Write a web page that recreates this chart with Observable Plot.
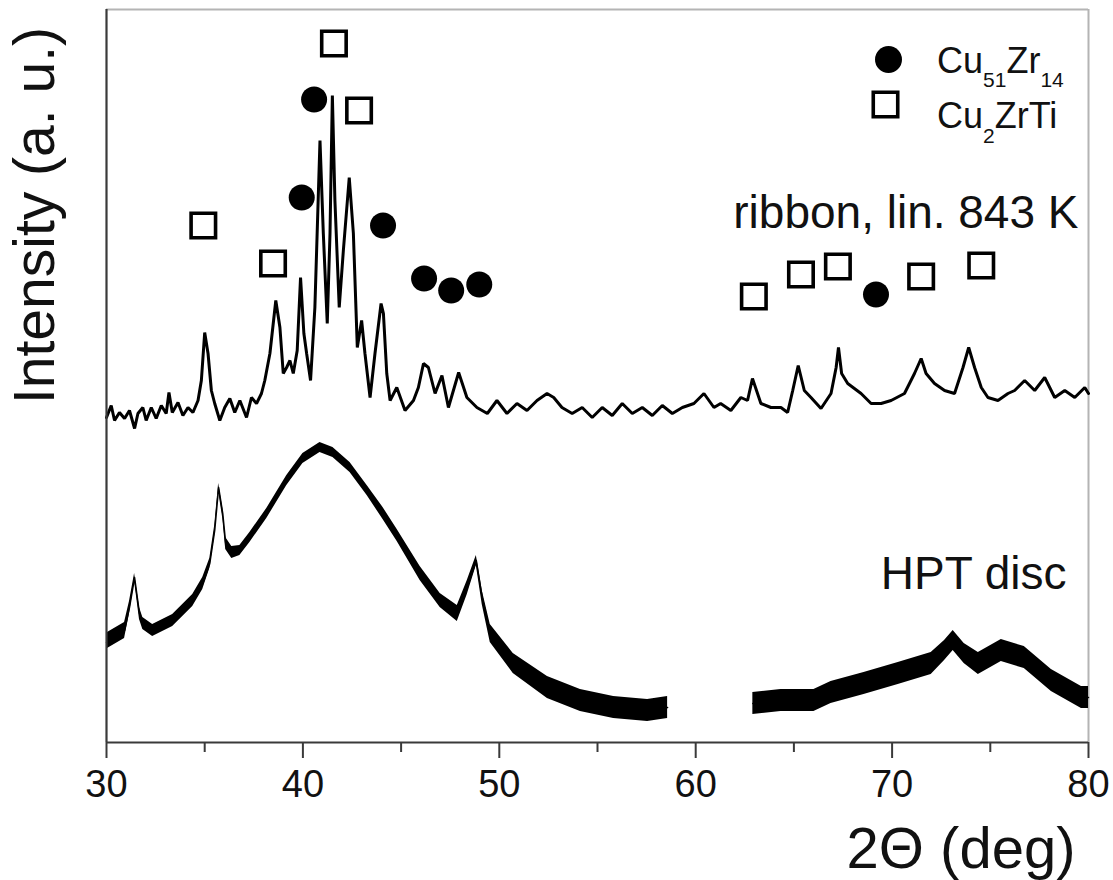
<!DOCTYPE html>
<html>
<head>
<meta charset="utf-8">
<script src="https://cdn.jsdelivr.net/npm/d3@7"></script>
<script src="https://cdn.jsdelivr.net/npm/@observablehq/plot@0.6"></script>
<style>
  html, body { margin: 0; padding: 0; background: #fff; }
  #chart { width: 1113px; height: 880px; }
</style>
</head>
<body>
<div id="chart"></div>
<script>
// ---- data (2θ in degrees, intensity in arbitrary units) ----
const ribbonX = [30.00,30.24,30.41,30.66,30.92,31.17,31.43,31.60,31.85,32.02,32.28,32.53,32.79,33.04,33.18,33.35,33.64,33.89,34.15,34.40,34.66,34.83,35.00,35.17,35.34,35.51,35.77,36.02,36.28,36.53,36.79,37.13,37.38,37.64,37.89,38.06,38.32,38.62,38.83,39.00,39.17,39.34,39.51,39.71,39.88,40.05,40.19,40.39,40.61,40.87,41.04,41.24,41.38,41.50,41.63,41.85,42.06,42.36,42.57,42.77,42.99,43.16,43.42,43.67,43.98,44.10,44.27,44.44,44.78,45.20,45.63,45.88,46.14,46.39,46.73,47.08,47.41,47.93,48.35,48.86,49.39,49.88,50.39,50.90,51.41,51.92,52.43,52.77,53.19,53.71,54.22,54.73,55.24,55.75,56.26,56.77,57.28,57.79,58.30,58.81,59.32,59.91,60.42,60.93,61.27,61.79,62.30,62.64,62.89,63.32,63.83,64.34,64.68,64.94,65.22,65.53,65.87,66.38,66.89,67.15,67.27,67.43,67.74,68.42,68.93,69.44,69.95,70.63,71.14,71.48,71.73,72.16,72.67,73.18,73.61,73.90,74.20,74.54,74.88,75.39,75.90,76.24,76.75,77.26,77.77,78.28,78.79,79.30,79.81,80.00];
const ribbonY = [325,337,322,330,324,332,314,329,335,322,335,324,337,329,350,330,340,327,335,330,342,362,410,389,352,339,322,335,344,330,342,325,345,339,349,362,389,442,415,369,375,382,369,392,465,409,389,362,435,602,509,419,509,647,542,435,492,565,509,395,422,389,345,389,439,429,369,342,355,332,342,355,379,375,349,367,335,370,345,335,329,342,329,339,332,342,349,345,335,329,335,325,335,327,339,329,335,327,337,329,335,339,349,335,339,332,345,342,364,339,335,335,330,352,377,352,345,334,349,375,395,369,359,349,339,339,342,349,369,384,369,359,352,349,375,395,375,355,345,342,349,352,362,352,365,345,352,345,355,349];

const hptX1 = [30.00,30.05,30.92,31.17,31.43,31.68,31.85,32.35,33.37,34.39,34.90,35.26,35.51,35.71,35.92,36.07,36.38,36.79,37.30,38.16,39.18,40.00,40.87,41.53,42.40,43.27,44.08,44.80,45.97,46.99,47.86,48.37,48.83,49.13,49.54,50.71,52.45,54.13,55.82,57.55,58.57];
const hptY1 = [100,102,112,135,165,129,119,112,122,142,159,179,212,255,229,199,190,192,205,229,262,284,295,290,275,252,229,207,169,142,129,155,182,145,109,79,55,42,35,32,35];
const hptSpread1 = [8,8,8,6,4,6,6,6,6,6,6,5,5,4,5,6,6,5,5,5,5,5,5,5,5,5,6,6,7,7,8,7,5,7,9,10,11,11,11,11,11];

const hptX2 = [62.91,64.34,66.02,66.89,68.57,70.31,71.99,72.67,73.11,73.67,74.39,75.56,76.73,78.11,79.64,80.00];
const hptY2 = [39,42,42,50,59,69,79,92,102,89,79,92,85,62,45,45];
const hptSpread2 = [11,11,11,11,11,11,11,10,10,10,11,11,11,11,11,11];

const cu51zr14X = [40.57,39.94,44.08,46.17,47.55,48.98,69.18];
const cu51zr14Y = [643,545,517,464,452,458,448];
const cu2zrtiX = [41.58,42.86,34.93,38.48,62.96,65.36,67.24,71.48,74.54];
const cu2zrtiY = [699,632,517,479,446,468,476,466,477];

const majorTicks = [30,40,50,60,70,80];
const minorTicks = [35,45,55,65,75];
const curveLabels = ["ribbon, lin. 843 K", "HPT disc"];
const xLabel = "2Θ (deg)";
const yLabel = "Intensity (a. u.)";

// ---- tables built from the arrays ----
const ribbon = ribbonX.map((x, i) => ({x, y: ribbonY[i]}));
const hpt = [
  ...hptX1.map((x, i) => ({seg: "a", x, y: hptY1[i], lo: hptY1[i] - hptSpread1[i], hi: hptY1[i] + hptSpread1[i]})),
  ...hptX2.map((x, i) => ({seg: "b", x, y: hptY2[i], lo: hptY2[i] - hptSpread2[i], hi: hptY2[i] + hptSpread2[i]}))
];
const circles = cu51zr14X.map((x, i) => ({x, y: cu51zr14Y[i]}));
const squares = cu2zrtiX.map((x, i) => ({x, y: cu2zrtiY[i]}));

const FONT = "'Liberation Sans', Arial, Helvetica, sans-serif";

const svg = Plot.plot({
  width: 1113,
  height: 880,
  marginLeft: 106,
  marginRight: 25,
  marginTop: 9,
  marginBottom: 138,
  style: {fontFamily: FONT, background: "#fff", color: "#000", overflow: "visible"},
  x: {domain: [30, 80]},
  y: {domain: [0, 733], axis: null},
  marks: [
    // frame
    Plot.ruleY([733], {stroke: "#b4b4b4", strokeWidth: 2}),
    Plot.ruleX([80], {stroke: "#b4b4b4", strokeWidth: 2}),
    // HPT disc (noisy band)
    Plot.areaY(hpt, {x: "x", y1: "lo", y2: "hi", z: "seg", fill: "#000", curve: "linear"}),
    Plot.line(hpt, {x: "x", y: "y", z: "seg", stroke: "#000", strokeWidth: 1.5}),
    // ribbon trace
    Plot.line(ribbon, {x: "x", y: "y", stroke: "#000", strokeWidth: 3, strokeLinejoin: "miter"}),
    // phase markers
    Plot.dot(circles, {x: "x", y: "y", r: 13, fill: "#000", symbol: "circle"}),
    Plot.dot(squares, {x: "x", y: "y", r: 13.8, fill: "none", stroke: "#000", strokeWidth: 3.6, symbol: "square"}),
    // axes
    Plot.ruleX([30], {stroke: "#3a3a3a", strokeWidth: 2.2}),
    Plot.ruleY([0], {stroke: "#3a3a3a", strokeWidth: 2.2}),
    Plot.axisX({ticks: majorTicks, tickSize: 16, tickPadding: 12, fontSize: 38, label: null, stroke: "#3a3a3a", strokeWidth: 2, fill: "#111", tickFormat: d => String(d)}),
    Plot.axisX({ticks: minorTicks, tickSize: 10, label: null, stroke: "#3a3a3a", strokeWidth: 2, tickFormat: () => ""}),
    // labels
    Plot.text([xLabel], {frameAnchor: "bottom-right", dx: -13, dy: 125, textAnchor: "end", lineAnchor: "bottom", fontSize: 58, fill: "#111"}),
    Plot.text([yLabel], {frameAnchor: "top-left", dx: -53, dy: 206, rotate: -90, textAnchor: "middle", lineAnchor: "bottom", fontSize: 57, fill: "#111"}),
    Plot.text([curveLabels[0]], {frameAnchor: "top-right", dx: -10, dy: 218, textAnchor: "end", lineAnchor: "bottom", fontSize: 46, fill: "#111"}),
    Plot.text([curveLabels[1]], {frameAnchor: "top-right", dx: -22, dy: 579, textAnchor: "end", lineAnchor: "bottom", fontSize: 46, fill: "#111"}),
    // legend symbols
    Plot.dot([0], {frameAnchor: "top-right", dx: -200, dy: 50, r: 13.5, fill: "#000", symbol: "circle"}),
    Plot.dot([0], {frameAnchor: "top-right", dx: -203, dy: 95, r: 13.8, fill: "none", stroke: "#000", strokeWidth: 3.6, symbol: "square"})
  ]
});

// legend text with subscripts
const lg = d3.select(svg).append("g")
  .attr("font-family", FONT).attr("fill", "#111").attr("text-anchor", "start");
const t1 = lg.append("text").attr("x", 937).attr("y", 73).attr("font-size", 36).attr("text-anchor", "start");
t1.append("tspan").text("Cu");
t1.append("tspan").attr("font-size", 21).attr("dy", 14).text("51");
t1.append("tspan").attr("dy", -14).text("Zr");
t1.append("tspan").attr("font-size", 21).attr("dy", 14).text("14");
const t2 = lg.append("text").attr("x", 937).attr("y", 128).attr("font-size", 36).attr("text-anchor", "start");
t2.append("tspan").text("Cu");
t2.append("tspan").attr("font-size", 21).attr("dy", 15).text("2");
t2.append("tspan").attr("dy", -15).text("ZrTi");

document.getElementById("chart").appendChild(svg);
</script>
</body>
</html>
